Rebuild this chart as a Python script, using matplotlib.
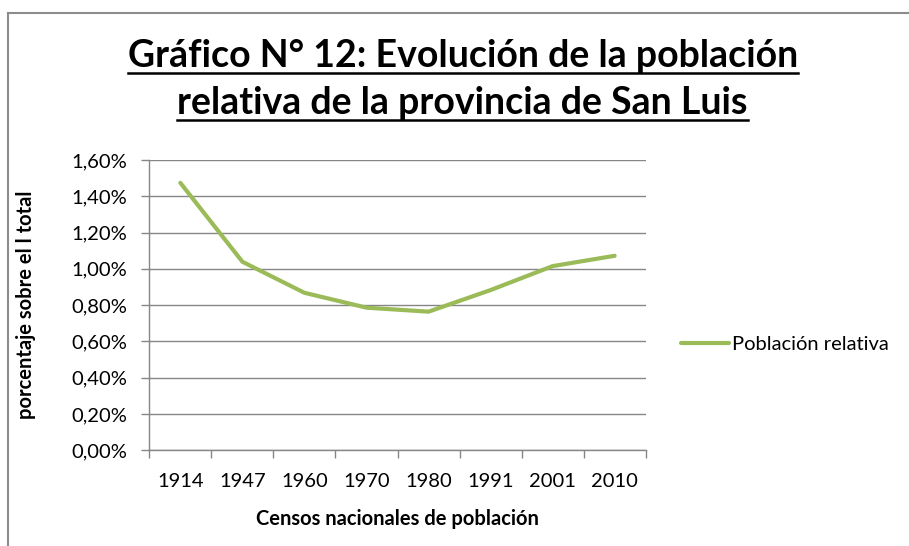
import matplotlib
matplotlib.use("Agg")
import matplotlib.pyplot as plt
from matplotlib.lines import Line2D
from matplotlib.ticker import FuncFormatter
import numpy as np

plt.rcParams['font.family'] = ['Lato', 'DejaVu Sans']

# Census years and relative population of San Luis (% of national total)
censos = ['1914', '1947', '1960', '1970', '1980', '1991', '2001', '2010']
poblacion_relativa = [1.474, 1.039, 0.868, 0.786, 0.764, 0.883, 1.015, 1.072]
y_ticks = [0.0, 0.2, 0.4, 0.6, 0.8, 1.0, 1.2, 1.4, 1.6]

green = '#9BBB59'
grid_gray = '#868686'
W, H = 909, 546

fig = plt.figure(figsize=(W / 100, H / 100), dpi=100)
ax = fig.add_axes([0.1643, 0.1753, 0.546, 0.5317])

x = np.arange(len(censos))
ax.plot(x, poblacion_relativa, color=green, lw=3.0, solid_capstyle='round',
        label='Población relativa')

ax.set_xlim(-0.5, len(censos) - 0.5)
ax.set_ylim(0, 1.6)
ax.set_yticks(y_ticks)
ax.yaxis.set_major_formatter(FuncFormatter(lambda v, p: f"{v:.2f}%".replace('.', ',')))
ax.set_xticks(x)
ax.set_xticklabels(censos)
ax.set_xticks(np.arange(-0.5, len(censos), 1), minor=True)
ax.tick_params(axis='x', which='major', length=0, pad=16, labelsize=14.5, colors='black')
ax.tick_params(axis='x', which='minor', length=6, color=grid_gray, width=1)
ax.tick_params(axis='y', length=6, color=grid_gray, width=1, pad=10, labelsize=14.5)

ax.grid(axis='y', color=grid_gray, lw=1)
ax.set_axisbelow(True)
for s in ['top', 'right']:
    ax.spines[s].set_visible(False)
for s in ['left', 'bottom']:
    ax.spines[s].set_color(grid_gray)
    ax.spines[s].set_linewidth(1)

ax.set_xlabel('Censos nacionales de población', fontsize=14.5, fontweight='bold', labelpad=14)
ax.set_ylabel('porcentaje sobre el l total', fontsize=14.5, fontweight='bold')
ax.yaxis.set_label_coords(-0.228, 0.5)

ax.legend(loc='center left', bbox_to_anchor=(1.035, 0.363), frameon=False, fontsize=14.5,
          handlelength=2.4, handletextpad=0.12)

# title with underline (baselines)
titles = ['Gráfico N° 12: Evolución de la población', 'relativa de la provincia de San Luis']
baselines = [67, 114]
for t, yb in zip(titles, baselines):
    tx = fig.text(0.509, 1 - yb / H, t, ha='center', va='baseline', fontsize=27,
                  fontweight='bold')
    fig.canvas.draw()
    bb = tx.get_window_extent(fig.canvas.get_renderer()).transformed(fig.transFigure.inverted())
    uy = 1 - (yb + 6) / H
    fig.add_artist(Line2D([bb.x0, bb.x1], [uy, uy], color='black', lw=1.8,
                          transform=fig.transFigure))

# outer chart border (top and left)
fig.add_artist(Line2D([8 / W, 1.0], [1 - 13 / H, 1 - 13 / H], color='#8C8C8C', lw=1.5,
                      transform=fig.transFigure))
fig.add_artist(Line2D([8 / W, 8 / W], [0, 1 - 13 / H], color='#8C8C8C', lw=1.5,
                      transform=fig.transFigure))

fig.savefig('out.png', dpi=100)
